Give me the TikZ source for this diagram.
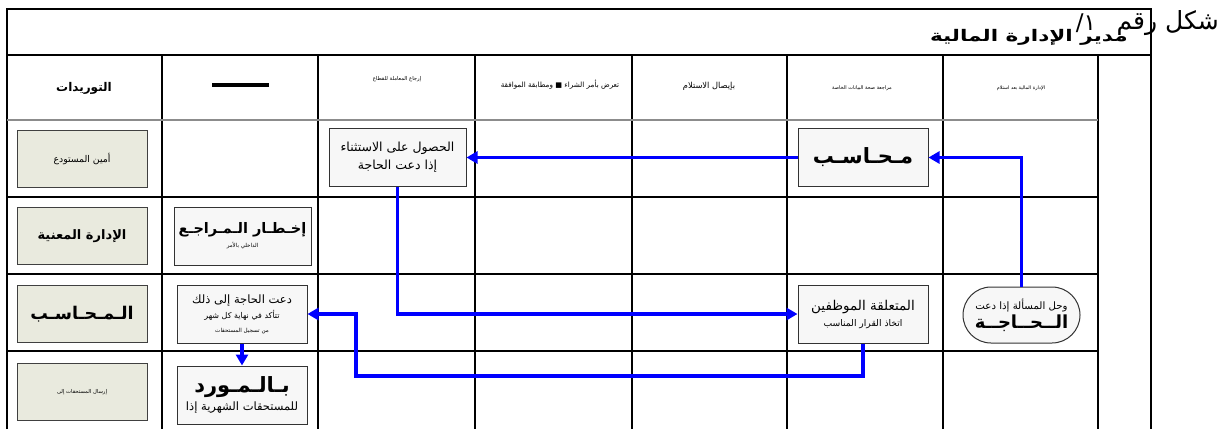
\documentclass[tikz,border=0pt]{standalone}
\usepackage{fontspec}
\usepackage{graphicx}
\TeXXeTstate=1
\newfontfamily\arabicfont[Script=Arabic]{DejaVu Sans}
\newcommand{\AR}[1]{{\arabicfont\beginR #1\endR}}
\newcommand{\fs}[1]{\fontsize{#1}{#1}\selectfont}
\usetikzlibrary{arrows.meta,shapes.misc}
\definecolor{beige}{RGB}{233,234,222}
\definecolor{paleg}{RGB}{247,247,247}
\begin{document}
\begin{tikzpicture}[x=1pt,y=-1pt,
  tbl/.style={line width=2pt,black},
  lanebox/.style={draw=black!75,fill=beige,line width=1pt,minimum width=130,minimum height=57,inner sep=0,align=center},
  actbox/.style={draw=black!80,fill=paleg,line width=1pt,minimum width=130,minimum height=58,inner sep=0,align=center},
  flow/.style={draw={rgb,255:red,0;green,0;blue,255},line width=3.2pt,-{Triangle[length=11pt,width=12pt]}},
  hdr/.style={inner sep=0,align=center}]
\useasboundingbox (0,0) rectangle (1220,429);
% table
\draw[tbl] (7,429) -- (7,9) -- (1151,9) -- (1151,429);
\draw[tbl] (7,55) -- (1151,55);
\foreach \x in {162,318,475,632,787,943,1098}{\draw[tbl] (\x,55) -- (\x,429);}
\draw[line width=1.2pt,black!45] (7,120) -- (1098,120);
\foreach \y in {197,274,351}{\draw[tbl] (7,\y) -- (1098,\y);}
% titles
\node[hdr,anchor=east] (fig) at (1219,23) {\AR{\fs{25}شكل رقم}};
\node[hdr] (fignum) at (1086,23) {\AR{\fs{23}١/}};
\node[hdr,anchor=east] (ttl) at (1128,37) {\scalebox{1.35}[1]{\AR{\fs{16}\bfseries مدير الإدارة المالية}}};
% header row
\node[hdr] (h1) at (84,88) {\AR{\fs{12}\bfseries التوريدات}};
\draw[line width=3.6pt] (212,85) -- (269,85);
\node[hdr] (h3) at (397,79) {\AR{\fs{5.3}إرجاع المعاملة للقطاع}};
\node[hdr] (h4) at (560,85) {\AR{\fs{7.2}تعرض بأمر الشراء ■ ومطابقة الموافقة}};
\node[hdr] (h5) at (709,86) {\AR{\fs{8.3}بإيصال الاستلام}};
\node[hdr] (h6) at (862,88) {\AR{\fs{5}مراجعة صحة البيانات الخاصة}};
\node[hdr] (h7) at (1021,88) {\AR{\fs{4.8}الإدارة المالية بعد استلام}};
% lane boxes
\node[lanebox] (amin) at (82,159) {\AR{\fs{9.3}أمين المستودع}};
\node[lanebox] (idara) at (82,236) {\AR{\fs{13}\bfseries الإدارة المعنية}};
\node[lanebox] (muhasib3) at (82,314) {\AR{\fs{17.5}\bfseries الـمـحـاسـب}};
\node[lanebox] (irsal) at (82,392) {\AR{\fs{5.3}إرسال المستحقات إلى}};
% activity boxes
\node[actbox,minimum width=137] (ikhtar) at (242.5,236) {\AR{\fs{14.5}\bfseries إخـطـار الـمـراجـع}\\[2pt]\AR{\fs{5.5}الداخلي بالأمر}};
\node[actbox] (daat) at (242,314) {\AR{\fs{11.5}دعت الحاجة إلى ذلك}\\[3pt]\AR{\fs{8}تتأكد في نهاية كل شهر}\\[2pt]\AR{\fs{5.6}من تسجيل المستحقات}};
\node[actbox] (mawrid) at (242,395) {\AR{\fs{21}\bfseries بـالـمـورد}\\[3pt]\AR{\fs{11.5}للمستحقات الشهرية إذا}};
\node[actbox,minimum width=137] (husul) at (397.5,157.5) {\AR{\fs{12.5}الحصول على الاستثناء}\\[4pt]\AR{\fs{12.5}إذا دعت الحاجة}};
\node[actbox] (muhasib1) at (863,157.5) {\AR{\fs{21}\bfseries مـحـاسـب}};
\node[actbox] (mutaalliqa) at (863,314) {\AR{\fs{13.5}المتعلقة الموظفين}\\[4pt]\AR{\fs{9.2}اتخاذ القرار المناسب}};
\node[draw=black!80,fill=paleg,line width=1pt,rounded rectangle,minimum width=117,minimum height=56,inner sep=0,align=center] (hall) at (1021.5,315) {\AR{\fs{10.2}وحل المسألة إذا دعت}\\[2pt]\AR{\fs{18}\bfseries الــحــاجــة}};
% connectors
\coordinate (bend) at (356,376);
\draw[flow] (hall.north) |- (muhasib1.east);
\draw[flow] (muhasib1.west) -- (husul.east);
\draw[flow] (husul.south) |- (mutaalliqa.west);
\draw[flow] (mutaalliqa.south) |- (bend) |- (daat.east);
\draw[flow] (daat.south) -- (mawrid.north);
\end{tikzpicture}
\end{document}
